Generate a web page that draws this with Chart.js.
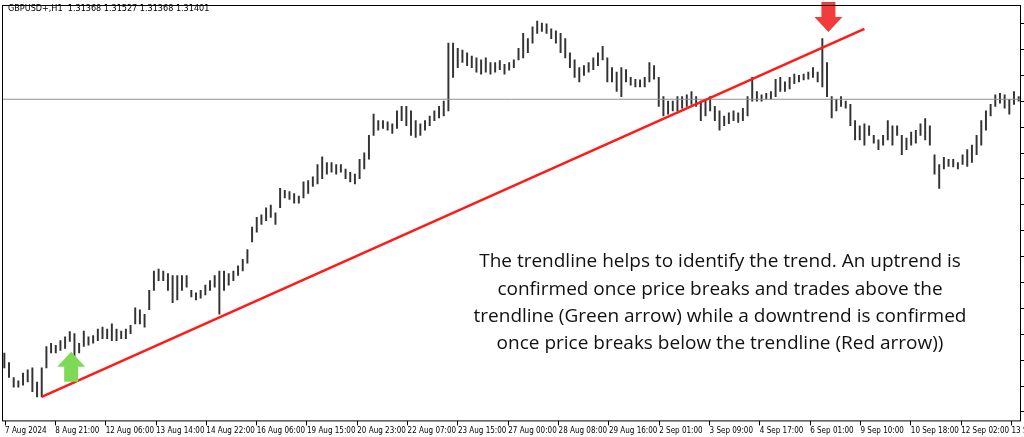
<!DOCTYPE html>
<html><head><meta charset="utf-8">
<script src="https://cdn.jsdelivr.net/npm/chart.js@4.4.1/dist/chart.umd.min.js"></script>
<style>html,body{margin:0;padding:0;background:#fff;overflow:hidden}#w{width:1024px;height:437px}</style>
</head><body><div id="w"><canvas id="c"></canvas></div>
<script>
const titleText = "GBPUSD+,H1  1.31368 1.31527 1.31368 1.31401";
const tickLabels = ["7 Aug 2024","8 Aug 21:00","12 Aug 06:00","13 Aug 14:00","14 Aug 22:00","16 Aug 06:00","19 Aug 15:00","20 Aug 23:00","22 Aug 07:00","23 Aug 15:00","27 Aug 00:00","28 Aug 08:00","29 Aug 16:00","2 Sep 01:00","3 Sep 09:00","4 Sep 17:00","6 Sep 01:00","9 Sep 10:00","10 Sep 18:00","12 Sep 02:00","13 Sep 10:00"];
const highs = [1.2753,1.2738,1.2715,1.2710,1.2722,1.2727,1.2730,1.2708,1.2730,1.2763,1.2768,1.2765,1.2772,1.2778,1.2786,1.2783,1.2768,1.2787,1.2778,1.2780,
1.2790,1.2793,1.2790,1.2798,1.2790,1.2787,1.2790,1.2796,1.2823,1.2820,1.2813,1.2850,1.2880,1.2883,1.2880,1.2876,1.2873,1.2873,1.2873,1.2873,
1.2850,1.2846,1.2850,1.2858,1.2865,1.2873,1.2880,1.2880,1.2876,1.2880,1.2888,1.2898,1.2913,1.2948,1.2963,1.2967,1.2978,1.2982,1.2970,1.3008,
1.3005,1.3003,1.3000,1.2996,1.3018,1.3020,1.3026,1.3045,1.3057,1.3048,1.3048,1.3045,1.3045,1.3038,1.3033,1.3030,1.3053,1.3063,1.3090,1.3123,
1.3113,1.3113,1.3111,1.3108,1.3128,1.3135,1.3135,1.3128,1.3113,1.3108,1.3113,1.3120,1.3128,1.3135,1.3143,1.3233,1.3233,1.3225,1.3222,1.3218,
1.3213,1.3210,1.3207,1.3210,1.3203,1.3203,1.3206,1.3200,1.3203,1.3207,1.3225,1.3248,1.3240,1.3258,1.3267,1.3264,1.3263,1.3255,1.3252,1.3248,
1.3240,1.3218,1.3207,1.3195,1.3198,1.3203,1.3210,1.3218,1.3228,1.3210,1.3195,1.3188,1.3195,1.3192,1.3180,1.3177,1.3176,1.3180,1.3203,1.3198,
1.3180,1.3150,1.3143,1.3143,1.3150,1.3150,1.3153,1.3158,1.3150,1.3143,1.3143,1.3150,1.3135,1.3128,1.3120,1.3125,1.3128,1.3125,1.3132,1.3150,
1.3180,1.3158,1.3153,1.3155,1.3158,1.3177,1.3180,1.3173,1.3180,1.3185,1.3183,1.3185,1.3188,1.3195,1.3188,1.3240,1.3203,1.3150,1.3146,1.3150,
1.3143,1.3138,1.3113,1.3105,1.3108,1.3105,1.3090,1.3083,1.3090,1.3113,1.3105,1.3105,1.3090,1.3086,1.3095,1.3098,1.3108,1.3116,1.3105,1.3060,
1.3045,1.3056,1.3053,1.3053,1.3048,1.3060,1.3068,1.3075,1.3090,1.3113,1.3128,1.3138,1.3153,1.3155,1.3153,1.3146,1.3158,1.3150];
const lows = [1.2730,1.2715,1.2700,1.2700,1.2703,1.2708,1.2693,1.2685,1.2685,1.2730,1.2753,1.2753,1.2757,1.2760,1.2771,1.2745,1.2753,1.2763,1.2765,1.2768,
1.2772,1.2775,1.2775,1.2772,1.2772,1.2775,1.2775,1.2783,1.2798,1.2798,1.2793,1.2820,1.2850,1.2865,1.2865,1.2850,1.2831,1.2835,1.2850,1.2855,
1.2840,1.2835,1.2838,1.2843,1.2850,1.2855,1.2813,1.2850,1.2858,1.2865,1.2873,1.2880,1.2892,1.2925,1.2940,1.2952,1.2958,1.2963,1.2952,1.2978,
1.2993,1.2991,1.2985,1.2985,1.2993,1.3000,1.3011,1.3015,1.3023,1.3030,1.3033,1.3030,1.3033,1.3023,1.3018,1.3015,1.3023,1.3038,1.3053,1.3090,
1.3098,1.3101,1.3098,1.3093,1.3101,1.3113,1.3105,1.3090,1.3087,1.3090,1.3098,1.3105,1.3113,1.3117,1.3120,1.3128,1.3180,1.3195,1.3203,1.3198,
1.3195,1.3188,1.3185,1.3188,1.3185,1.3188,1.3192,1.3185,1.3191,1.3195,1.3207,1.3210,1.3218,1.3233,1.3248,1.3251,1.3248,1.3240,1.3233,1.3218,
1.3210,1.3195,1.3180,1.3173,1.3183,1.3188,1.3192,1.3198,1.3207,1.3173,1.3173,1.3158,1.3150,1.3173,1.3168,1.3165,1.3165,1.3165,1.3173,1.3177,
1.3135,1.3120,1.3123,1.3128,1.3128,1.3132,1.3135,1.3138,1.3135,1.3113,1.3120,1.3128,1.3113,1.3098,1.3105,1.3108,1.3113,1.3110,1.3113,1.3120,
1.3143,1.3143,1.3143,1.3146,1.3146,1.3150,1.3158,1.3158,1.3162,1.3170,1.3173,1.3176,1.3177,1.3180,1.3173,1.3165,1.3150,1.3117,1.3128,1.3135,
1.3132,1.3105,1.3083,1.3083,1.3075,1.3090,1.3078,1.3068,1.3075,1.3083,1.3075,1.3090,1.3060,1.3068,1.3075,1.3078,1.3090,1.3083,1.3075,1.3030,
1.3008,1.3038,1.3042,1.3041,1.3038,1.3045,1.3042,1.3048,1.3060,1.3075,1.3098,1.3120,1.3135,1.3140,1.3132,1.3123,1.3138,1.3143];
const bidPrice = 1.3146;
const trendStart = {x: 8, y: 1.2685};
const trendEnd = {x: 184, y: 1.3255};
const greenArrow = {x: 14.3, y: 1.2755};
const redArrow = {x: 176.3, y: 1.3250};
const noteLines = ["The trendline helps to identify the trend. An uptrend is","confirmed once price breaks and trades above the","trendline (Green arrow) while a downtrend is confirmed","once price breaks below the trendline (Red arrow))"];

const n = highs.length;
const bars = highs.map((h,i)=>({x:i,y:[lows[i],h]}));

const deco = {
  id:'deco',
  afterDatasetsDraw(chart){
    const {ctx, chartArea:a, scales:{x,y}} = chart;
    ctx.save();
    function arrow(px, py, up, color){
      ctx.fillStyle=color; ctx.beginPath();
      const d = up?1:-1;
      ctx.moveTo(px,py);
      ctx.lineTo(px+14,py+15*d);
      ctx.lineTo(px+7,py+15*d);
      ctx.lineTo(px+7,py+30*d);
      ctx.lineTo(px-7,py+30*d);
      ctx.lineTo(px-7,py+15*d);
      ctx.lineTo(px-14,py+15*d);
      ctx.closePath(); ctx.fill();
    }
    arrow(x.getPixelForValue(greenArrow.x), y.getPixelForValue(greenArrow.y), true, '#7ed957');
    arrow(x.getPixelForValue(redArrow.x), y.getPixelForValue(redArrow.y), false, '#f23b3b');
    ctx.fillStyle='#111'; ctx.font='19px "Open Sans"'; ctx.textAlign='center'; ctx.textBaseline='middle';
    noteLines.forEach((l,i)=>ctx.fillText(l, 720, 262+i*27.3));
    ctx.font='9px "DejaVu Sans Condensed", "DejaVu Sans"'; ctx.textAlign='left'; ctx.fillStyle='#000';
    ctx.fillText(titleText, 8, 9);
    ctx.strokeStyle='#000'; ctx.lineWidth=1;
    ctx.strokeRect(a.left+0.5, a.top+0.5, a.width-1, a.height-1);
    for(let yy=a.top+18; yy<a.bottom; yy+=25.9){ ctx.beginPath(); ctx.moveTo(a.right, Math.round(yy)+0.5); ctx.lineTo(a.right+3, Math.round(yy)+0.5); ctx.stroke(); }
    ctx.restore();
  }
};

new Chart(document.getElementById('c'), {
  data:{datasets:[
    {type:'bar', data:bars, backgroundColor:'#333', borderWidth:0, barThickness:1.3, order:3},
    {type:'line', data:[{x:-0.5,y:bidPrice},{x:n-0.5,y:bidPrice}], borderColor:'#8a9099', borderWidth:1, pointRadius:0, order:2},
    {type:'line', data:[trendStart,trendEnd], borderColor:'#ff1a1a', borderWidth:2.5, pointRadius:0, order:1}
  ]},
  options:{
    responsive:true, maintainAspectRatio:false, animation:false,
    layout:{padding:{left:2,right:3,top:5,bottom:0}},
    plugins:{legend:{display:false}, tooltip:{enabled:false}},
    scales:{
      x:{type:'linear', offset:false, min:-0.5, max:n-0.5,
        afterBuildTicks(s){ s.ticks = tickLabels.map((_,k)=>({value:0.15+k*(n/20.25)})); },
        afterFit(s){ s.paddingLeft=0; s.paddingRight=0; },
        ticks:{autoSkip:false, maxRotation:0, align:'start', padding:1, font:{family:'"DejaVu Sans Condensed", "DejaVu Sans"', size:8}, color:'#000',
          callback(v,i){ return tickLabels[i]; }},
        grid:{offset:false, drawOnChartArea:false, drawTicks:true, tickLength:4, color:'#000'}, border:{display:false}},
      y:{display:false, min:1.2647, max:1.3292}
    }
  },
  plugins:[deco]
});
</script></body></html>
